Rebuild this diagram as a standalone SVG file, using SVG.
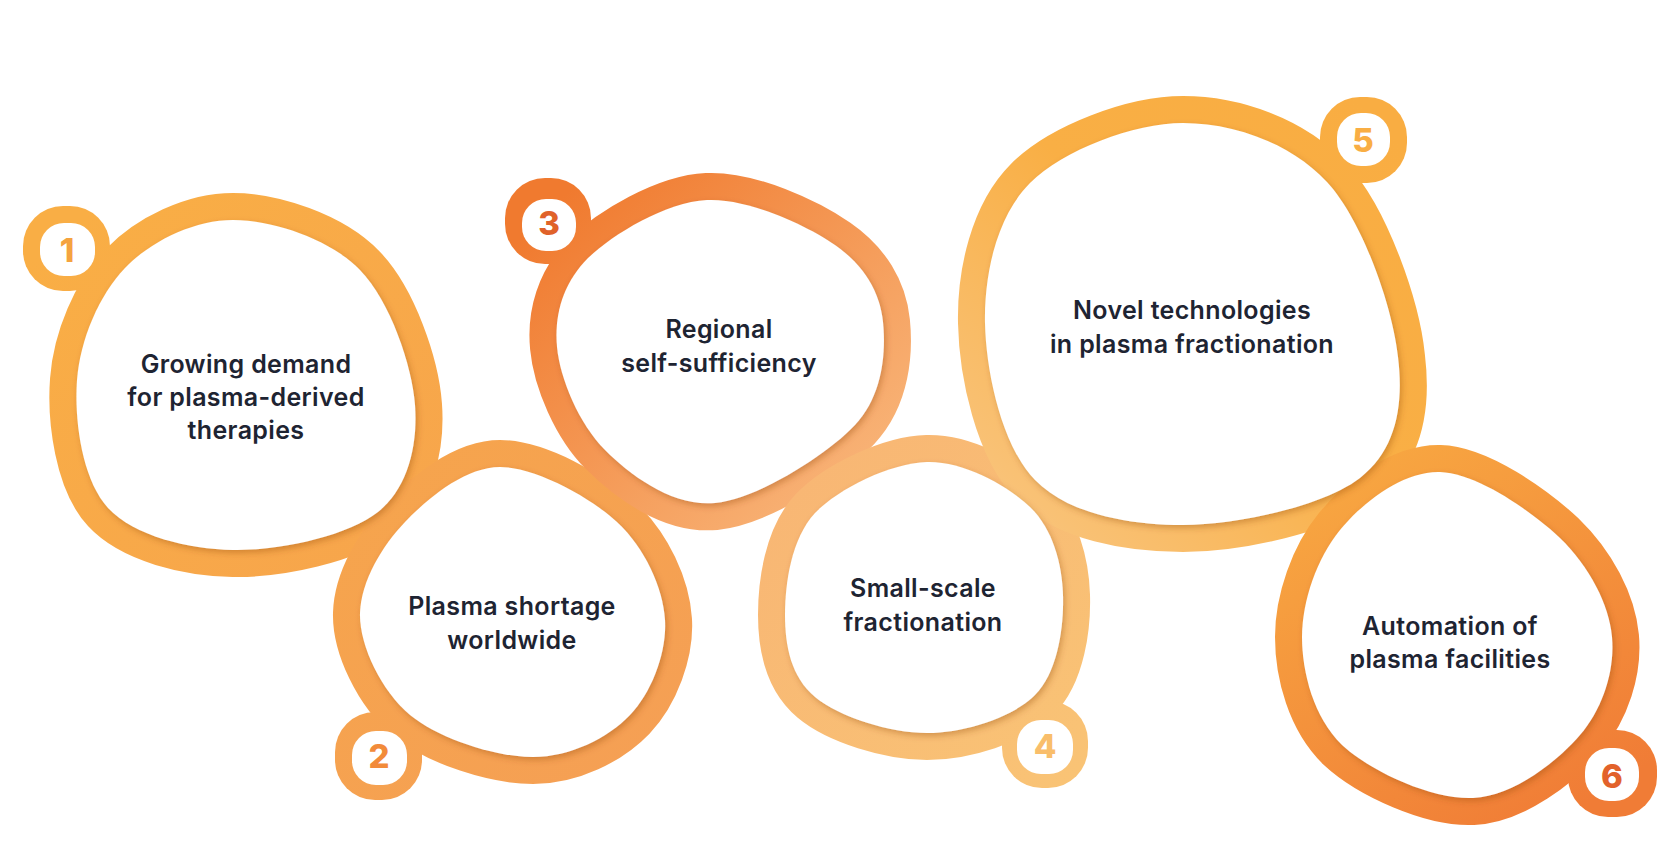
<svg xmlns="http://www.w3.org/2000/svg" width="1680" height="853" viewBox="0 0 1680 853">
<defs>
<style>
.ring{fill:none;stroke-width:54;stroke-linejoin:round}
.inner{fill:#ffffff;filter:url(#sh)}
.lbl{font-family:Inter,"Liberation Sans",sans-serif;font-weight:600;font-size:25px;letter-spacing:0.35px;fill:#1E2432;text-anchor:middle}
.num{font-family:Inter,"Liberation Sans",sans-serif;font-weight:800;font-size:33px;text-anchor:middle}
.bw{fill:#ffffff}
</style>
<filter id="sh" x="-10%" y="-10%" width="125%" height="125%">
<feDropShadow dx="2" dy="3" stdDeviation="3" flood-color="#8a3a00" flood-opacity="0.33"/>
</filter>
<linearGradient id="g1" gradientUnits="userSpaceOnUse" x1="100" y1="200" x2="420" y2="560"><stop offset="0" stop-color="#F9AE45"/><stop offset="1" stop-color="#F7A54C"/></linearGradient>
<linearGradient id="g2" gradientUnits="userSpaceOnUse" x1="340" y1="440" x2="690" y2="780"><stop offset="0" stop-color="#F6A54C"/><stop offset="1" stop-color="#F59F55"/></linearGradient>
<linearGradient id="g3" gradientUnits="userSpaceOnUse" x1="570" y1="190" x2="880" y2="520"><stop offset="0" stop-color="#F07A2F"/><stop offset="1" stop-color="#F9B97E"/></linearGradient>
<linearGradient id="g4" gradientUnits="userSpaceOnUse" x1="760" y1="440" x2="1090" y2="760"><stop offset="0" stop-color="#F8B574"/><stop offset="1" stop-color="#F9C375"/></linearGradient>
<linearGradient id="g5" gradientUnits="userSpaceOnUse" x1="1000" y1="520" x2="1380" y2="120"><stop offset="0" stop-color="#F9C47C"/><stop offset="0.55" stop-color="#F9AF45"/><stop offset="1" stop-color="#F9AD42"/></linearGradient>
<linearGradient id="g6" gradientUnits="userSpaceOnUse" x1="1330" y1="450" x2="1560" y2="820"><stop offset="0" stop-color="#F8A942"/><stop offset="1" stop-color="#F07C36"/></linearGradient>
<path id="b1" d="M233,220 C272,220 330,239 360,270 C390,301 412,365 415,405 C418,445 408,488 378,512 C348,536 278,551 233,550 C188,549 134,536 108,508 C82,480 74,420 77,380 C80,340 99,295 125,268 C151,241 194,220 233,220Z"/>
<path id="b2" d="M500,467 C535,467 590,497 617,522 C645,548 663,588 665,620 C667,652 652,692 630,715 C608,738 570,757 533,757 C496,757 439,739 410,715 C381,691 359,645 360,613 C361,581 382,546 405,522 C428,498 465,467 500,467Z"/>
<path id="b3" d="M707,200 C748,198 806,225 835,245 C864,265 880,292 883,322 C886,352 883,395 855,425 C827,455 757,499 715,503 C673,507 631,476 605,450 C579,424 560,379 557,347 C554,315 563,283 588,258 C613,234 666,202 707,200Z"/>
<path id="b4" d="M927,462 C963,461 1007,485 1030,507 C1053,529 1062,564 1063,595 C1064,626 1058,672 1035,695 C1012,718 964,733 927,733 C890,733 839,717 815,697 C791,677 785,646 785,615 C785,584 791,539 815,513 C839,488 891,463 927,462Z"/>
<path id="b5" d="M1183,123 C1233,123 1291,143 1327,182 C1363,221 1393,308 1398,357 C1404,406 1396,450 1360,478 C1324,506 1237,525 1183,525 C1129,525 1068,514 1035,480 C1002,446 986,373 985,323 C984,274 997,216 1030,183 C1063,150 1134,123 1183,123Z"/>
<path id="b6" d="M1440,472 C1477,473 1531,511 1560,538 C1589,566 1609,604 1612,637 C1615,670 1603,708 1580,735 C1557,762 1513,796 1473,798 C1433,800 1371,772 1342,745 C1314,718 1302,673 1302,637 C1302,601 1317,558 1340,530 C1363,502 1403,471 1440,472Z"/>
</defs>
<rect width="1680" height="853" fill="#ffffff"/>
<g id="rings">
<g id="ring-1"><use href="#b1" class="ring" stroke="url(#g1)"/><rect x="23" y="206" width="87" height="85" rx="40" fill="url(#g1)"/></g>
<g id="ring-2"><use href="#b2" class="ring" stroke="url(#g2)"/><rect x="335" y="712" width="87" height="88" rx="40" fill="url(#g2)"/></g>
<g id="ring-3"><use href="#b3" class="ring" stroke="url(#g3)"/><rect x="505" y="178" width="86" height="86" rx="40" fill="url(#g3)"/></g>
<g id="ring-4"><use href="#b4" class="ring" stroke="url(#g4)"/><rect x="1002" y="701" width="86" height="87" rx="40" fill="url(#g4)"/></g>
<g id="ring-5"><use href="#b5" class="ring" stroke="url(#g5)"/><rect x="1320" y="97" width="87" height="86" rx="40" fill="url(#g5)"/></g>
<g id="ring-6"><use href="#b6" class="ring" stroke="url(#g6)"/><rect x="1568" y="730" width="89" height="87" rx="40" fill="url(#g6)"/></g>
</g>
<g id="node-1">
<use href="#b1" class="inner"/>
<rect class="bw" x="40" y="223" width="55" height="53" rx="24"/>
<text class="num" x="67" y="262" fill="#F5A33F">1</text>
<text class="lbl" x="246" y="373">Growing demand</text>
<text class="lbl" x="246" y="406">for plasma-derived</text>
<text class="lbl" x="246" y="439">therapies</text>
</g>
<g id="node-2">
<use href="#b2" class="inner"/>
<rect class="bw" x="352" y="731" width="55" height="54" rx="24"/>
<text class="num" x="379" y="768" fill="#F28B3A">2</text>
<text class="lbl" x="512" y="615">Plasma shortage</text>
<text class="lbl" x="512" y="649">worldwide</text>
</g>
<g id="node-3">
<use href="#b3" class="inner"/>
<rect class="bw" x="522" y="199" width="54" height="52" rx="24"/>
<text class="num" x="549" y="235" fill="#E0622A">3</text>
<text class="lbl" x="719" y="338">Regional</text>
<text class="lbl" x="719" y="372">self-sufficiency</text>
</g>
<g id="node-4">
<use href="#b4" class="inner"/>
<rect class="bw" x="1017" y="720" width="56" height="54" rx="24"/>
<text class="num" x="1045" y="758" fill="#F9BE6B">4</text>
<text class="lbl" x="923" y="597">Small-scale</text>
<text class="lbl" x="923" y="631">fractionation</text>
</g>
<g id="node-5">
<use href="#b5" class="inner"/>
<rect class="bw" x="1337" y="113" width="53" height="53" rx="24"/>
<text class="num" x="1363" y="152" fill="#F9AE44">5</text>
<text class="lbl" x="1192" y="319">Novel technologies</text>
<text class="lbl" x="1192" y="353">in plasma fractionation</text>
</g>
<g id="node-6">
<use href="#b6" class="inner"/>
<rect class="bw" x="1585" y="748" width="54" height="53" rx="24"/>
<text class="num" x="1612" y="788" fill="#E2622B">6</text>
<text class="lbl" x="1450" y="635">Automation of</text>
<text class="lbl" x="1450" y="668">plasma facilities</text>
</g>
</svg>
